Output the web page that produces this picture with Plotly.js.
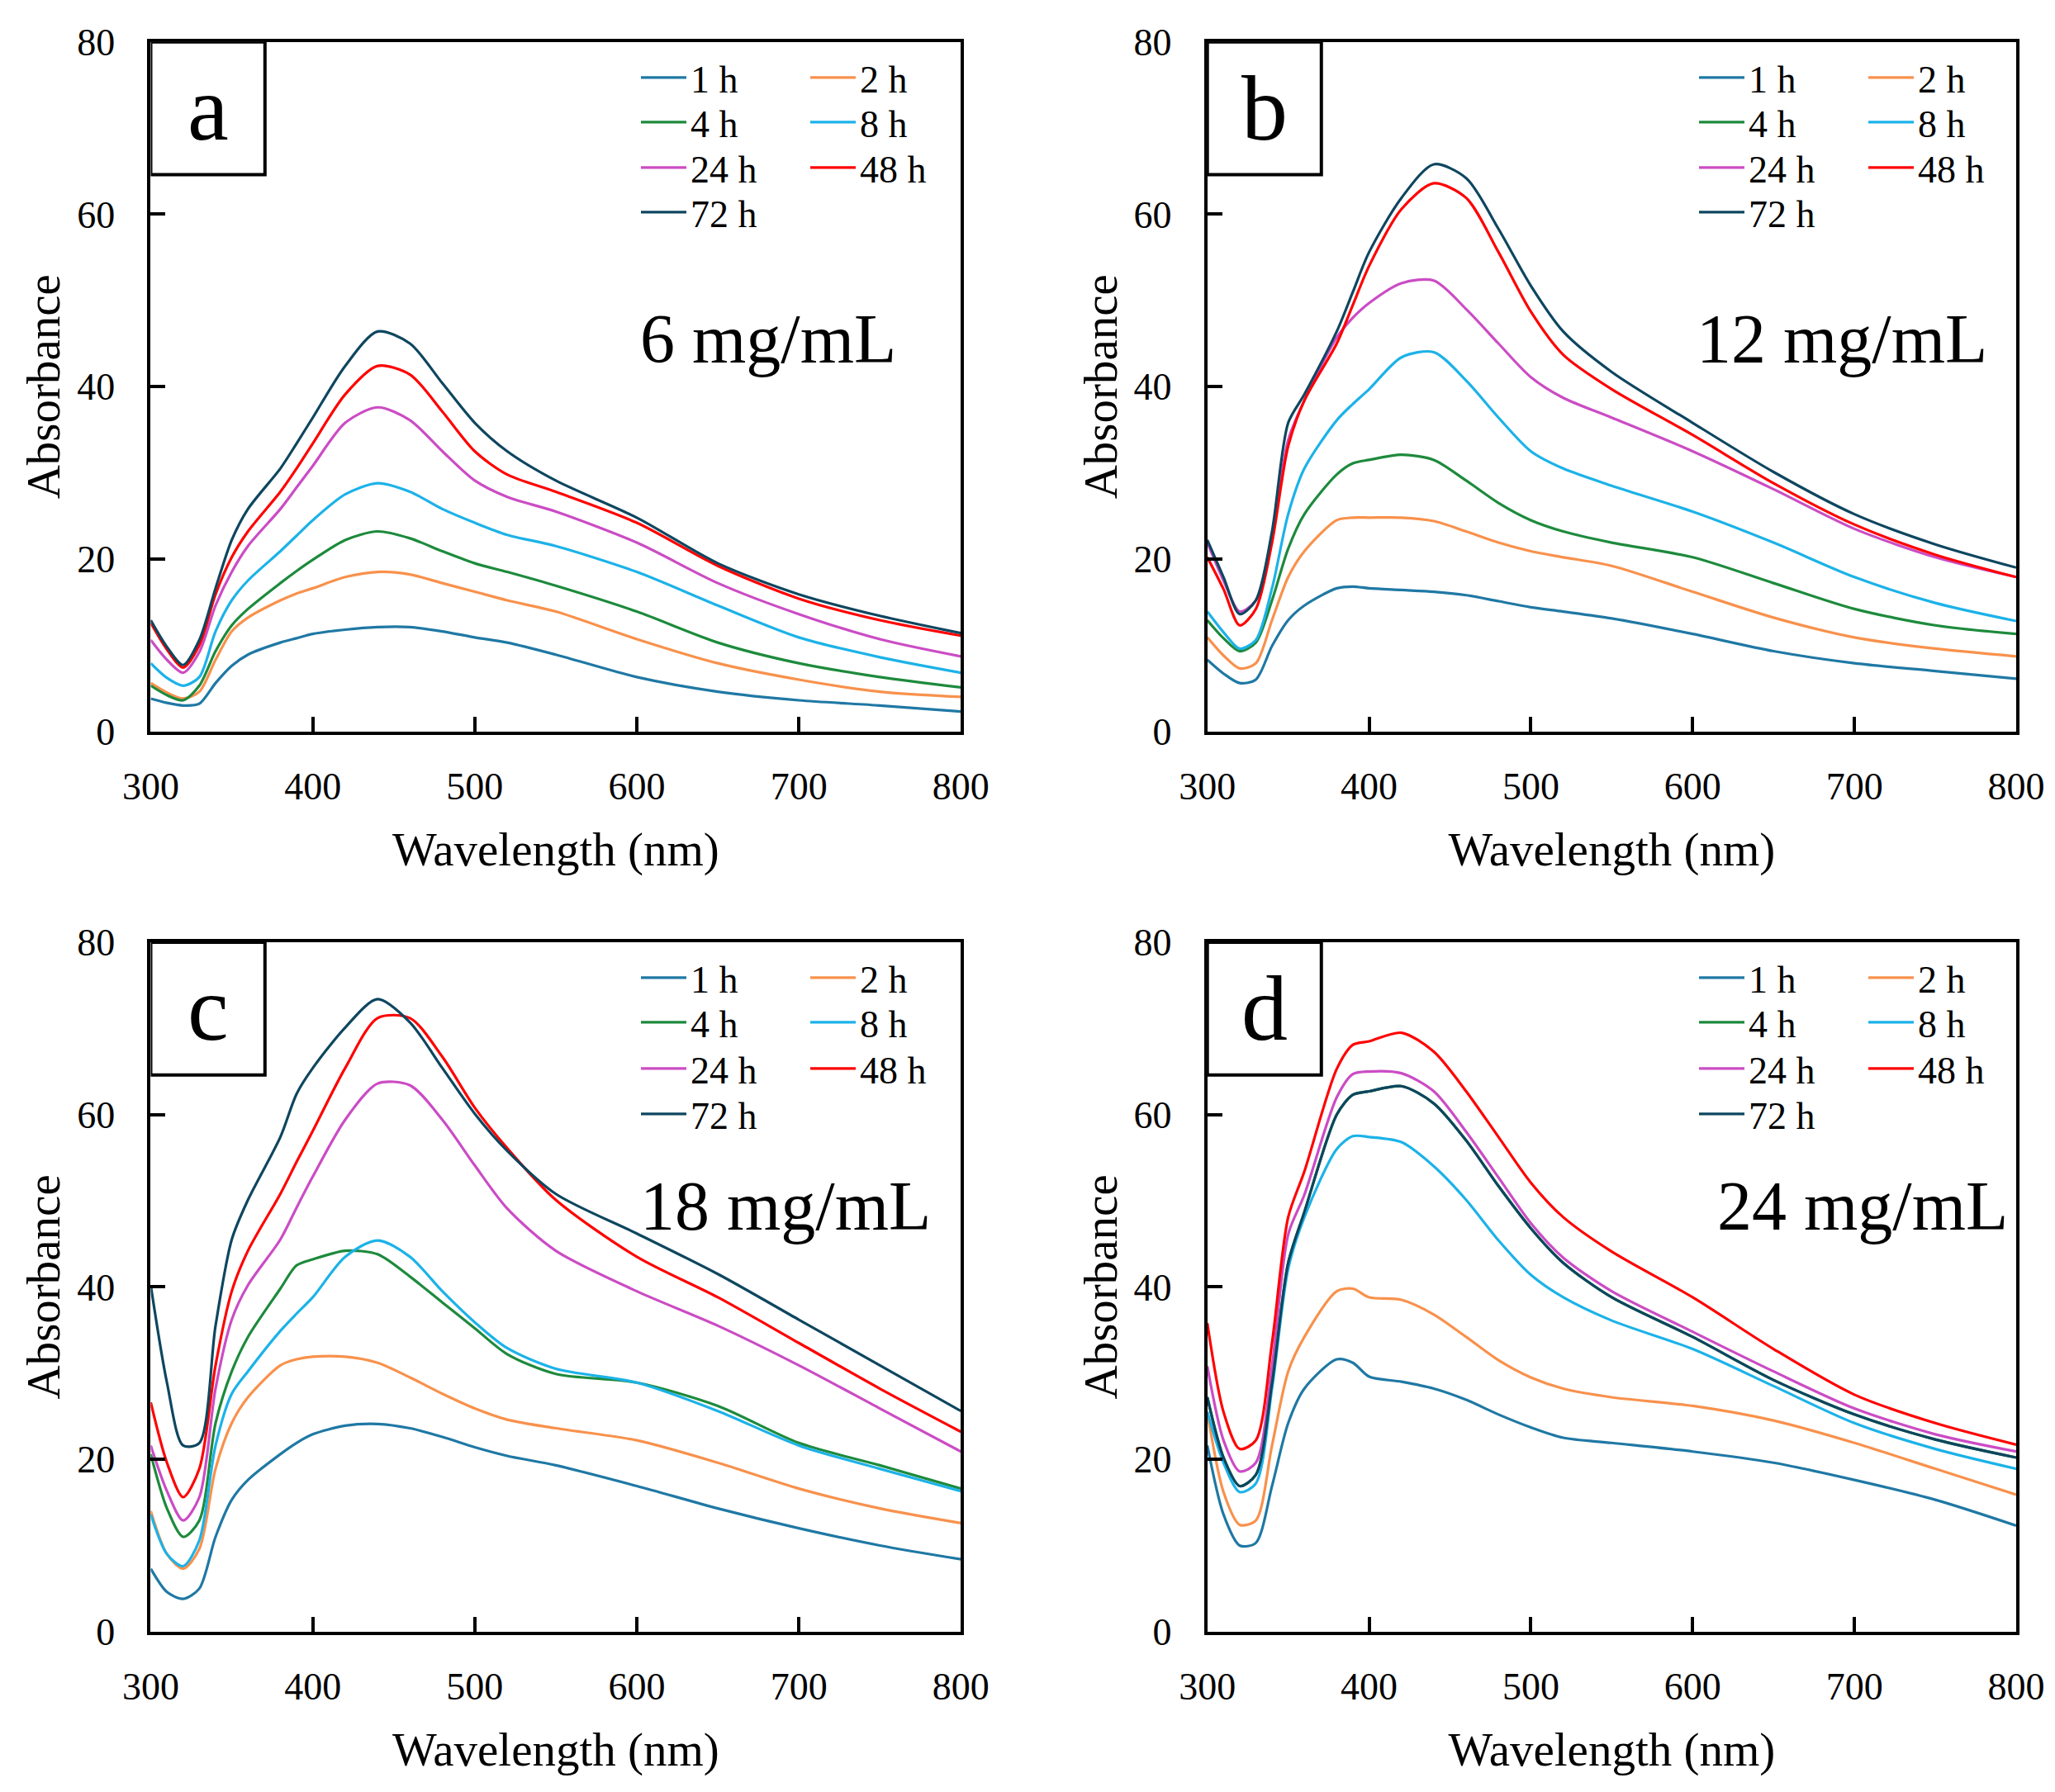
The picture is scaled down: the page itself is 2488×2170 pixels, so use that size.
<!DOCTYPE html>
<html><head><meta charset="utf-8">
<script src="https://cdn.plot.ly/plotly-3.0.1.min.js"></script>
<style>html,body{margin:0;padding:0;background:#fff}#chart{width:2488px;height:2170px}</style>
</head><body><div id="chart"></div>
<script>
// ---------- DATA ----------
const wavelength = [300,310,320,330,340,350,360,380,390,400,420,440,460,480,500,520,550,600,650,700,750,800];
const hours = ['1 h','2 h','4 h','8 h','24 h','48 h','72 h'];
const colors = ['#1F78A4','#F8914C','#1D8A3C','#1CB2E8','#CB4CC4','#FF0000','#0E465F'];
const panelLetters = ['a','b','c','d'];
const concentrations = ['6 mg/mL','12 mg/mL','18 mg/mL','24 mg/mL'];
const xTicks = [300,400,500,600,700,800];
const yTicks = [0,20,40,60,80];

// panel a : 6 mg/mL
const a_1h  = [3.8,3.3,3.0,3.2,5.6,7.6,8.9,10.3,10.8,11.3,11.8,12.1,12.1,11.6,10.9,10.3,8.9,6.3,4.6,3.6,3.0,2.3];
const a_2h  = [5.6,4.5,3.8,4.6,8.3,11.6,13.2,15.2,16.0,16.6,17.9,18.5,18.2,17.2,16.2,15.2,13.9,10.7,7.9,6.0,4.6,4.0];
const a_4h  = [5.3,4.2,3.6,5.3,9.3,12.3,14.2,17.2,18.6,19.9,22.2,23.2,22.4,20.9,19.5,18.5,16.9,13.9,10.3,7.9,6.3,5.1];
const a_8h  = [7.9,6.2,5.3,6.3,11.6,15.2,17.5,20.9,22.7,24.5,27.5,28.8,27.8,25.8,24.2,22.8,21.5,18.5,14.6,10.9,8.6,6.8];
const a_24h = [10.6,8.3,6.8,9.2,14.6,18.5,21.5,25.8,28.3,30.8,35.8,37.6,36.1,32.5,29.1,27.2,25.5,21.9,17.2,13.6,10.7,8.7];
const a_48h = [12.6,9.5,7.4,10.0,15.9,20.2,23.2,27.8,30.5,33.4,39.1,42.4,41.4,37.1,32.5,29.8,27.8,24.2,19.2,15.4,12.9,11.1];
const a_72h = [12.9,9.8,7.7,10.6,16.6,22.2,25.8,30.5,33.4,36.4,42.4,46.4,45.0,40.4,35.8,32.5,29.1,24.8,19.5,15.9,13.4,11.4];

// panel b : 12 mg/mL
const b_1h  = [8.3,6.7,5.6,6.0,9.9,12.9,14.6,16.6,16.8,16.6,16.4,16.2,15.8,15.1,14.4,13.9,13.1,11.3,9.3,7.9,7.0,6.1];
const b_2h  = [10.9,8.8,7.3,7.9,12.9,17.9,20.9,24.5,24.8,24.8,24.8,24.4,23.2,21.9,20.9,20.2,19.2,16.2,13.2,10.9,9.6,8.7];
const b_4h  = [12.9,10.8,9.3,10.3,15.2,21.2,25.2,29.8,31.1,31.5,32.1,31.5,29.1,26.5,24.5,23.2,21.9,20.2,17.2,14.2,12.3,11.3];
const b_8h  = [13.9,11.5,9.6,10.6,16.6,25.2,30.5,36.1,38.0,39.7,43.4,44.0,40.7,36.4,32.5,30.5,28.5,25.5,21.9,17.9,14.9,12.8];
const b_24h = [21.9,17.5,13.9,15.2,22.8,33.8,38.4,45.7,48.0,49.7,52.0,52.3,49.0,45.0,41.1,38.7,36.4,32.5,28.1,23.5,20.2,17.9];
const b_48h = [20.2,16.5,12.3,14.2,21.9,33.1,38.4,45.0,49.5,54.0,60.6,63.6,61.9,55.6,48.7,43.7,39.7,34.4,28.8,24.0,20.5,17.9];
const b_72h = [22.2,17.9,13.6,15.2,23.2,35.8,39.1,46.4,51.0,55.6,61.9,65.8,64.2,58.3,51.7,46.4,41.7,35.8,30.1,25.2,21.7,19.0];

// panel c : 18 mg/mL
const c_1h  = [7.3,4.6,3.8,5.0,11.0,15.3,17.6,20.6,21.9,22.9,23.9,24.1,23.6,22.6,21.4,20.4,19.3,16.9,14.3,12.0,10.0,8.4];
const c_2h  = [14.0,9.0,7.3,9.6,18.9,24.2,27.2,30.9,31.6,31.9,31.9,31.2,29.5,27.6,25.9,24.6,23.6,22.2,19.6,16.6,14.3,12.6];
const c_4h  = [20.6,14.3,11.0,12.9,24.2,30.2,34.2,39.8,42.5,43.2,44.2,43.8,41.2,38.2,35.2,32.2,29.9,28.9,26.2,21.9,19.3,16.6];
const c_8h  = [13.6,9.0,7.6,10.6,21.6,27.6,30.2,34.9,36.9,38.8,43.5,45.4,43.5,39.5,35.9,32.9,30.5,28.9,25.6,21.6,18.9,16.3];
const c_24h = [21.6,16.3,12.9,15.6,28.2,36.2,40.2,45.5,49.2,52.8,59.4,63.6,63.4,59.4,54.1,49.1,44.2,39.5,35.5,30.9,25.9,20.9];
const c_48h = [26.6,19.6,15.6,18.9,30.9,39.5,44.2,50.8,54.5,58.1,65.4,71.2,71.2,66.7,60.8,56.1,50.1,43.5,38.8,33.5,28.2,23.2];
const c_72h = [40.2,28.9,21.6,21.9,35.5,45.5,50.1,57.4,62.4,65.4,70.1,73.4,70.7,65.4,60.1,55.8,50.8,46.2,41.5,36.2,30.9,25.6];

// panel d : 24 mg/mL (4 h lies under the 72 h curve)
const d_1h  = [21.6,13.6,10.0,10.3,16.9,24.2,28.2,31.6,31.2,29.6,29.0,28.2,26.9,25.2,23.7,22.5,21.9,20.9,19.6,17.6,15.3,12.3];
const d_2h  = [25.5,16.2,12.4,12.9,21.6,30.2,34.2,39.5,39.8,38.8,38.5,36.8,34.2,31.5,29.5,28.2,27.2,26.2,24.5,21.9,18.9,15.9];
const d_4h  = [27.2,20.2,16.9,18.2,28.8,42.8,48.7,60.0,62.3,62.7,63.3,61.3,57.0,51.7,46.8,42.8,38.8,34.2,29.2,25.2,22.3,20.2];
const d_8h  = [25.5,19.6,16.2,17.2,28.2,42.1,48.1,56.0,57.5,57.4,56.8,54.0,50.1,45.4,41.4,38.8,36.1,32.8,28.5,24.2,21.2,18.9];
const d_24h = [30.8,22.2,18.6,19.6,30.8,46.1,50.7,62.0,64.7,65.0,64.8,62.7,58.0,52.7,47.4,43.4,39.5,34.8,30.2,25.9,22.9,20.9];
const d_48h = [35.8,25.5,21.2,22.2,33.5,48.1,53.4,65.3,68.1,68.5,69.5,67.3,62.7,57.4,52.1,48.1,44.1,38.8,32.8,27.5,24.2,21.7];
const d_72h = [27.2,20.2,16.9,18.2,28.8,42.8,48.7,60.0,62.3,62.7,63.3,61.3,57.0,51.7,46.8,42.8,38.8,34.2,29.2,25.2,22.3,20.2];

const panelSeries = [
  [a_1h,a_2h,a_4h,a_8h,a_24h,a_48h,a_72h],
  [b_1h,b_2h,b_4h,b_8h,b_24h,b_48h,b_72h],
  [c_1h,c_2h,c_4h,c_8h,c_24h,c_48h,c_72h],
  [d_1h,d_2h,d_4h,d_8h,d_24h,d_48h,d_72h]
];

// ---------- LAYOUT ----------
const FONT = 'Liberation Serif, Times New Roman, serif';
const W = 2488, H = 2170;
const xDom = [[0.07335,0.46757],[0.58750,0.98111]];
const yDom = [[0.59189,0.97659],[0.08949,0.47419]];
// legend rows: left x (px) per panel column, row centre y (px) per panel row
const legX = [771, 2052];
const legRowY = [[94,148,203,257],[1184,1238,1294,1349]];
const concPos = [[681,45.5],[692.5,45.5],[692,49.4],[705,49.4]];

const traces = [];
const layout = {
  width: W, height: H,
  margin: {l:0,r:0,t:0,b:0},
  paper_bgcolor: '#fff', plot_bgcolor: '#fff',
  showlegend: true,
  font: {family: FONT, color: '#000'},
  annotations: [], shapes: []
};

let legCount = 0;
for (let p = 0; p < 4; p++) {
  const col = p % 2, row = Math.floor(p / 2);
  const sfx = p === 0 ? '' : String(p + 1);
  const series = panelSeries[p];
  const rowIds = [];
  for (let r = 0; r < 4; r++) {
    legCount++;
    const id = legCount === 1 ? 'legend' : 'legend' + legCount;
    rowIds.push(id);
    layout[id] = {
      x: legX[col] / W, y: 1 - legRowY[row][r] / H,
      xanchor: 'left', yanchor: 'middle', orientation: 'h',
      bgcolor: 'rgba(0,0,0,0)', borderwidth: 0,
      itemwidth: 55, entrywidth: 135, entrywidthmode: 'pixels',
      tracegroupgap: 0,
      font: {family: FONT, size: 46, color: '#000'}
    };
  }
  for (let s = 0; s < series.length; s++) {
    traces.push({
      x: wavelength, y: series[s], type: 'scatter', mode: 'lines',
      name: hours[s],
      line: {color: colors[s], width: 3.2, shape: 'spline', smoothing: 0.8},
      xaxis: 'x' + sfx, yaxis: 'y' + sfx,
      legend: rowIds[Math.floor(s / 2)],
      hoverinfo: 'skip'
    });
  }
  layout['xaxis' + sfx] = {
    domain: xDom[col], anchor: 'y' + sfx, range: [300, 800],
    tickmode: 'array', tickvals: xTicks,
    ticks: 'inside', ticklen: 18, tickwidth: 4, tickcolor: '#000',
    showline: true, linewidth: 4, linecolor: '#000', mirror: true,
    showgrid: false, zeroline: false,
    tickfont: {family: FONT, size: 46, color: '#000'},
    ticklabelstandoff: 23,
    title: {text: 'Wavelength (nm)', font: {family: FONT, size: 57, color: '#000'}, standoff: 32},
    fixedrange: true
  };
  layout['yaxis' + sfx] = {
    domain: yDom[row], anchor: 'x' + sfx, range: [0, 80],
    tickmode: 'array', tickvals: yTicks,
    ticks: 'inside', ticklen: 18, tickwidth: 4, tickcolor: '#000',
    showline: true, linewidth: 4, linecolor: '#000', mirror: true,
    showgrid: false, zeroline: false,
    tickfont: {family: FONT, size: 46, color: '#000'},
    ticklabelstandoff: 30,
    title: {text: 'Absorbance', font: {family: FONT, size: 57, color: '#000'}, standoff: 3},
    fixedrange: true
  };
  layout.shapes.push({
    type: 'rect', xref: 'x' + sfx, yref: 'y' + sfx,
    x0: 300, x1: 370.5, y0: 64.6, y1: 80,
    line: {color: '#000', width: 4}, fillcolor: '#fff', layer: 'above'
  });
  layout.annotations.push({
    xref: 'x' + sfx, yref: 'y' + sfx, x: 335.5, y: 72.3,
    text: panelLetters[p], showarrow: false,
    xanchor: 'center', yanchor: 'middle',
    font: {family: FONT, size: 112, color: '#000'}
  });
  layout.annotations.push({
    xref: 'x' + sfx, yref: 'y' + sfx, x: concPos[p][0], y: concPos[p][1],
    text: concentrations[p], showarrow: false,
    xanchor: 'center', yanchor: 'middle',
    font: {family: FONT, size: 84, color: '#000'}
  });
}

Plotly.newPlot('chart', traces, layout, {displayModeBar: false, staticPlot: true});
</script>
</body></html>
